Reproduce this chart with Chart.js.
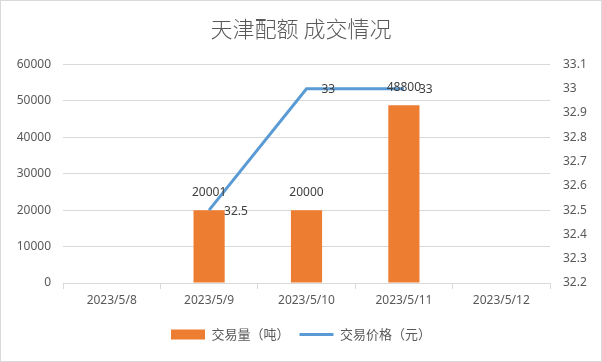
<!DOCTYPE html>
<html><head><meta charset="utf-8">
<script src="https://cdn.jsdelivr.net/npm/chart.js@4.4.0/dist/chart.umd.min.js"></script>
<style>
html,body{margin:0;padding:0;background:#fff;}
#wrap{width:600px;height:360px;border:1px solid #d9d9d9;position:relative;}
canvas{display:block;}
</style></head>
<body>
<div id="wrap"><canvas id="c" width="600" height="360"></canvas></div>
<script>
const categories = ['2023/5/8','2023/5/9','2023/5/10','2023/5/11','2023/5/12'];
const volume = [null, 20001, 20000, 48800, null];
const price = [null, 32.5, 33, 33, null];
const titleText = '天津配额 成交情况';
const volumeLabel = '交易量（吨）';
const priceLabel = '交易价格（元）';

const FONT = "'Noto Sans CJK SC', 'Noto Sans', sans-serif";
const TXT = '#595959';
const GRID = '#d9d9d9';

const labelPlugin = {
  id: 'vlabels',
  afterDatasetsDraw(chart) {
    const ctx = chart.ctx;
    ctx.save();
    ctx.font = "12px 'Noto Sans', 'DejaVu Sans', sans-serif";
    ctx.fillStyle = '#404040';
    ctx.textBaseline = 'middle';
    chart.getDatasetMeta(0).data.forEach((el, i) => {
      if (volume[i] == null) return;
      ctx.textAlign = 'center';
      ctx.fillText(String(volume[i]), el.x, el.y - 18);
    });
    chart.getDatasetMeta(1).data.forEach((el, i) => {
      if (price[i] == null) return;
      ctx.textAlign = 'left';
      ctx.fillText(String(price[i]), el.x + 15, el.y + 1);
    });
    ctx.restore();
  }
};

new Chart(document.getElementById('c'), {
  data: {
    labels: categories,
    datasets: [
      { type: 'bar', label: volumeLabel, data: volume, yAxisID: 'y',
        backgroundColor: '#ED7D31', categoryPercentage: 1, barPercentage: 0.32, order: 2,
        pointStyle: 'rect' },
      { type: 'line', label: priceLabel, data: price, yAxisID: 'y1',
        borderColor: '#5B9BD5', backgroundColor: '#5B9BD5', borderWidth: 3,
        pointRadius: 0, spanGaps: false, order: 1, pointStyle: 'line' }
    ]
  },
  options: {
    responsive: false,
    animation: false,
    layout: { padding: { left: 10, right: 10, top: 0, bottom: 10 } },
    plugins: {
      title: { display: true, text: titleText, color: TXT,
        font: { family: FONT, size: 22, weight: 300, lineHeight: 1.2 },
        padding: { top: 14, bottom: 23 } },
      legend: { position: 'bottom',
        labels: { color: TXT, font: { family: FONT, size: 13 }, usePointStyle: true,
          pointStyleWidth: 34, boxHeight: 10, padding: 10,
          sort: (a, b) => a.datasetIndex - b.datasetIndex } },
      tooltip: { enabled: false }
    },
    scales: {
      x: {
        offset: true,
        grid: { display: true, drawOnChartArea: false, drawTicks: true, tickLength: 6, color: GRID, offset: true },
        border: { display: true, color: GRID },
        ticks: { color: TXT, font: { family: "'Noto Sans', sans-serif", size: 12 }, padding: 4, maxRotation: 0 },
        afterFit(s) { s.height = 35; }
      },
      y: {
        position: 'left', min: 0, max: 60000,
        ticks: { stepSize: 10000, color: TXT, font: { family: "'Noto Sans', sans-serif", size: 12 }, padding: 12,
          callback: v => String(v) },
        grid: { color: GRID, drawTicks: false },
        border: { display: false },
        afterFit(s) { s.width = 52; }
      },
      y1: {
        position: 'right', min: 32.2, max: 33.1,
        ticks: { stepSize: 0.1, color: TXT, font: { family: "'Noto Sans', sans-serif", size: 12 }, padding: 13,
          callback: v => String(Math.round(v * 10) / 10) },
        grid: { drawOnChartArea: false, drawTicks: false },
        border: { display: false },
        afterFit(s) { s.width = 41; }
      }
    }
  },
  plugins: [labelPlugin]
});
</script>
</body></html>
